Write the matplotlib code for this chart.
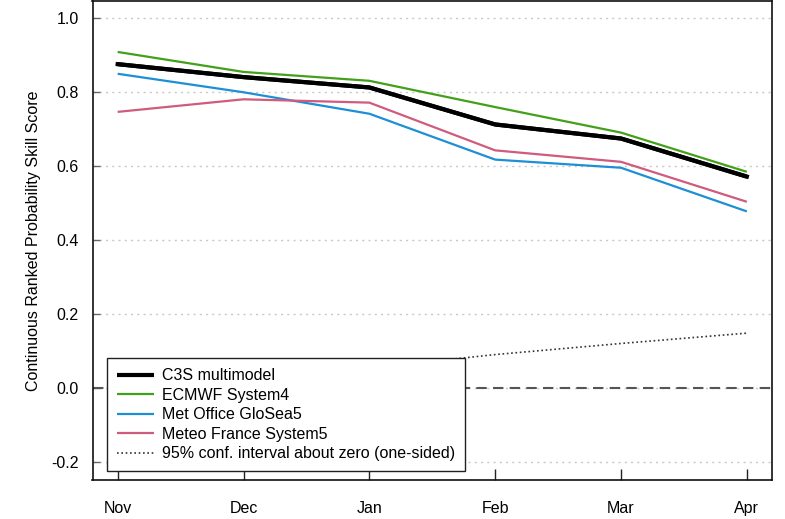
import matplotlib
matplotlib.use("Agg")
import matplotlib.pyplot as plt
import numpy as np

plt.rcParams['font.family'] = ['Liberation Sans', 'DejaVu Sans']

months = ["Nov", "Dec", "Jan", "Feb", "Mar", "Apr"]

c3s = [0.876, 0.841, 0.813, 0.713, 0.675, 0.572]
ecmwf = [0.909, 0.855, 0.831, 0.760, 0.691, 0.585]
glosea = [0.850, 0.800, 0.742, 0.618, 0.596, 0.478]
meteofrance = [0.747, 0.781, 0.772, 0.643, 0.612, 0.504]
conf95 = [0.035, 0.045, 0.055, 0.091, 0.121, 0.149]

series_names = ["C3S multimodel", "ECMWF System4", "Met Office GloSea5",
                "Meteo France System5"]
series_colors = ["#000000", "#43A01A", "#1E8FD5", "#CF5B7D"]
series_widths = [3.0, 1.6, 1.6, 1.6]
yticks = [-0.2, 0.0, 0.2, 0.4, 0.6, 0.8, 1.0]

FS = 11.5

fig = plt.figure(figsize=(7.85, 5.19), dpi=100)
ax = fig.add_axes([92.5 / 785, 1 - 480 / 519, (772 - 92.5) / 785, 480 / 519 - 0.001])

x = np.arange(len(months))

for yv in yticks:
    ax.axhline(yv, color="#c8c8c8", lw=1.0, ls=(0, (1.5, 3)), zorder=1)
ax.axhline(0.0, color="#555555", lw=1.5, ls=(0, (5, 3)), zorder=2)

handles = []
for vals, name, col, w in zip([c3s, ecmwf, glosea, meteofrance],
                              series_names, series_colors, series_widths):
    h, = ax.plot(x, vals, color=col, lw=w, label=name, zorder=3,
                 solid_joinstyle="round", solid_capstyle="butt")
    handles.append(h)
# redraw multimodel on top
ax.plot(x, c3s, color="#000000", lw=3.0, zorder=4, solid_joinstyle="round")
h, = ax.plot(x, conf95, color="#333333", lw=1.2, ls=(0, (1, 1.6)),
             label="95% conf. interval about zero (one-sided)", zorder=3)
handles.append(h)

ax.set_xlim(-0.2, 5.2)
ax.set_ylim(-0.248, 1.048)
ax.set_xticks(x)
ax.set_xticklabels(months)
ax.set_yticks(yticks)
ax.set_yticklabels([f"{v:.1f}" for v in yticks])
ax.tick_params(axis="x", direction="in", length=8, width=1, pad=15,
               labelsize=FS, color="#222222")
ax.tick_params(axis="y", direction="in", length=5, width=1, pad=10,
               labelsize=FS, color="#666666")
for sp in ax.spines.values():
    sp.set_linewidth(1.2)
    sp.set_color("#111111")

ax.set_ylabel("Continuous Ranked Probability Skill Score", fontsize=FS,
              labelpad=7)

leg = ax.legend(handles=handles, loc="lower left",
                bbox_to_anchor=(0.0213, 0.0187), borderaxespad=0,
                fontsize=FS, frameon=True, fancybox=False,
                handlelength=2.3, handletextpad=0.55, borderpad=0.62,
                labelspacing=0.28)
leg.get_frame().set_edgecolor("#222222")
leg.get_frame().set_linewidth(1.0)
leg.get_frame().set_facecolor("white")
leg.get_frame().set_alpha(1.0)
leg.set_zorder(10)

fig.savefig("out.png", dpi=100)
